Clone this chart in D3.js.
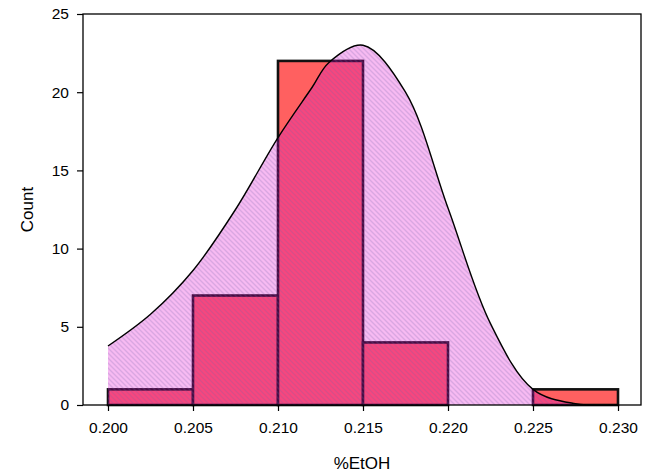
<!DOCTYPE html>
<html>
<head>
<meta charset="utf-8">
<script src="https://cdn.jsdelivr.net/npm/d3@7"></script>
<style>
  html, body { margin: 0; padding: 0; background: #fff; }
  svg { display: block; }
  text { font-family: "Liberation Sans", Arial, sans-serif; fill: #000; }
</style>
</head>
<body>
<div id="chart"></div>
<script>
// ---- data ----
const binStarts = [0.200, 0.205, 0.210, 0.215, 0.220, 0.225];
const binWidth = 0.005;
const counts = [1, 7, 22, 4, 0, 1];
const curveX = [0.2000, 0.2025, 0.2050, 0.2075, 0.2100, 0.2120, 0.2130, 0.2150, 0.2175, 0.2200, 0.2225, 0.2250, 0.2275, 0.2300];
const curveY = [3.77, 5.8, 8.6, 12.5, 17.1, 20.3, 21.9, 23.0, 20.0, 12.6, 5.2, 1.0, 0.08, 0.0];
const xTicks = [0.200, 0.205, 0.210, 0.215, 0.220, 0.225, 0.230];
const yTicks = [0, 5, 10, 15, 20, 25];
const xTitle = "%EtOH";
const yTitle = "Count";

// ---- layout ----
const W = 646, H = 475;
const plotL = 83, plotR = 641, plotT = 14, plotB = 405;

const svg = d3.select("#chart").append("svg").attr("width", W).attr("height", H);

const x = d3.scaleLinear().domain([0.200, 0.230]).range([108, 618]);
const y = d3.scaleLinear().domain([0, 25]).range([plotB, plotT]);

// hatch pattern
const defs = svg.append("defs");
const pat = defs.append("pattern")
  .attr("id", "hatch").attr("patternUnits", "userSpaceOnUse")
  .attr("width", 5).attr("height", 5);
pat.append("path")
  .attr("d", "M-1,-1 L6,6 M-1,4 L1,6 M4,-1 L6,1")
  .attr("stroke", "rgba(110,100,170,0.22)").attr("stroke-width", 1.4);

// bars
svg.append("g").selectAll("rect")
  .data(binStarts.map((s, i) => ({ s, c: counts[i] })).filter(d => d.c > 0))
  .join("rect")
  .attr("x", d => x(d.s))
  .attr("y", d => y(d.c))
  .attr("width", d => x(d.s + binWidth) - x(d.s))
  .attr("height", d => y(0) - y(d.c))
  .attr("fill", "#ff6060")
  .attr("stroke", "#111")
  .attr("stroke-width", 2.6);

// curve area
const pts = curveX.map((v, i) => [v, curveY[i]]);
const crv = d3.curveCatmullRom.alpha(0.5);
const area = d3.area().x(d => x(d[0])).y0(y(0)).y1(d => y(Math.max(0, d[1]))).curve(crv);
const line = d3.line().x(d => x(d[0])).y(d => y(d[1])).curve(crv);

svg.append("path").datum(pts).attr("d", area).attr("fill", "rgba(225,0,208,0.27)");
svg.append("path").datum(pts).attr("d", area).attr("fill", "url(#hatch)");
svg.append("path").datum(pts).attr("d", line)
  .attr("fill", "none").attr("stroke", "#000").attr("stroke-width", 1.4);

// frame
svg.append("rect")
  .attr("x", plotL).attr("y", plotT)
  .attr("width", plotR - plotL).attr("height", plotB - plotT)
  .attr("fill", "none").attr("stroke", "#000").attr("stroke-width", 1.3);

// x axis
const xAxis = d3.axisBottom(x).tickValues(xTicks).tickFormat(d3.format(".3f")).tickSize(6).tickSizeOuter(0);
const gx = svg.append("g").attr("transform", `translate(0,${plotB})`).call(xAxis);
gx.select(".domain").remove();
gx.selectAll("line").attr("stroke", "#000").attr("stroke-width", 1.2);
gx.selectAll("text").attr("font-size", "15.5px").attr("dy", "1.25em").attr("font-family", "Liberation Sans, Arial, sans-serif");

// y axis
const yAxis = d3.axisLeft(y).tickValues(yTicks).tickSize(6).tickSizeOuter(0).tickPadding(8);
const gy = svg.append("g").attr("transform", `translate(${plotL},0)`).call(yAxis);
gy.select(".domain").remove();
gy.selectAll("line").attr("stroke", "#000").attr("stroke-width", 1.2);
gy.selectAll("text").attr("font-size", "15.5px").attr("font-family", "Liberation Sans, Arial, sans-serif");

// titles
svg.append("text").attr("x", (plotL + plotR) / 2).attr("y", 469)
  .attr("text-anchor", "middle").attr("font-size", "17px").text(xTitle);
svg.append("text").attr("transform", `translate(33,${(plotT + plotB) / 2}) rotate(-90)`)
  .attr("text-anchor", "middle").attr("font-size", "17px").text(yTitle);
</script>
</body>
</html>
